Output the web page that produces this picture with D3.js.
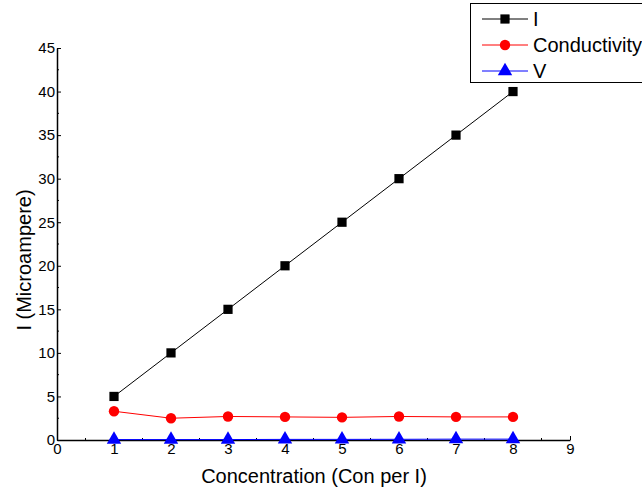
<!DOCTYPE html>
<html>
<head>
<meta charset="utf-8">
<script src="https://cdn.jsdelivr.net/npm/d3@7"></script>
<style>
  body { margin: 0; background: #fff; }
  svg { display: block; font-family: "Liberation Sans", Arial, sans-serif; }
</style>
</head>
<body>
<svg id="chart" width="642" height="492"></svg>
<script>
const concentration = [1, 2, 3, 4, 5, 6, 7, 8];
const currentI = [5, 10, 15, 20, 25, 30, 35, 40];
const conductivity = [3.3, 2.5, 2.7, 2.65, 2.6, 2.7, 2.65, 2.65];
const voltage = [0.05, 0.05, 0.05, 0.07, 0.07, 0.08, 0.1, 0.1];
const xTicks = [0, 1, 2, 3, 4, 5, 6, 7, 8, 9];
const yTicks = [0, 5, 10, 15, 20, 25, 30, 35, 40, 45];

const series = [
  { name: "I", values: currentI, color: "#000000", symbol: d3.symbolSquare },
  { name: "Conductivity", values: conductivity, color: "#ff0000", symbol: d3.symbolCircle },
  { name: "V", values: voltage, color: "#0000ff", symbol: d3.symbolTriangle }
];

const svg = d3.select("#chart");
const x = d3.scaleLinear().domain([0, 9]).range([57, 570]);
const y = d3.scaleLinear().domain([0, 45]).range([440, 48]);

// minor ticks
svg.append("g")
  .selectAll("line")
  .data(d3.range(0.5, 9, 1))
  .join("line")
  .attr("x1", d => x(d)).attr("x2", d => x(d))
  .attr("y1", y(0)).attr("y2", y(0) - 2)
  .attr("stroke", "#000");
svg.append("g")
  .selectAll("line")
  .data(d3.range(2.5, 45, 5))
  .join("line")
  .attr("y1", d => y(d)).attr("y2", d => y(d))
  .attr("x1", x(0)).attr("x2", x(0) + 2)
  .attr("stroke", "#000");

const xAxis = svg.append("g")
  .attr("transform", `translate(0,${y(0)})`)
  .call(d3.axisBottom(x).tickValues(xTicks).tickSize(-4).tickPadding(3).tickSizeOuter(0));
xAxis.select(".domain").attr("stroke-width", 1.5);
xAxis.selectAll("text").attr("font-size", 15).attr("fill", "#000").attr("font-family", "Liberation Sans, Arial, sans-serif");

const yAxis = svg.append("g")
  .attr("transform", `translate(${x(0)},0)`)
  .call(d3.axisLeft(y).tickValues(yTicks).tickSize(-4).tickPadding(2).tickSizeOuter(0));
yAxis.select(".domain").attr("stroke-width", 1.5);
yAxis.selectAll("text").attr("font-size", 15).attr("fill", "#000").attr("font-family", "Liberation Sans, Arial, sans-serif");

svg.append("text")
  .attr("x", 314).attr("y", 483)
  .attr("text-anchor", "middle")
  .attr("font-size", 20)
  .text("Concentration (Con per I)");

svg.append("text")
  .attr("transform", `translate(31,260) rotate(-90)`)
  .attr("text-anchor", "middle")
  .attr("font-size", 20)
  .text("I (Microampere)");

const line = d3.line().x((d, i) => x(concentration[i])).y(d => y(d));

series.forEach(s => {
  svg.append("path")
    .datum(s.values)
    .attr("d", line)
    .attr("fill", "none")
    .attr("stroke", s.color)
    .attr("stroke-width", 1);
  svg.append("g")
    .selectAll("path")
    .data(s.values)
    .join("path")
    .attr("transform", (d, i) => `translate(${x(concentration[i])},${y(d)})`)
    .attr("d", d3.symbol().type(s.symbol).size(s.symbol === d3.symbolTriangle ? 90 : 85))
    .attr("fill", s.color);
});

// legend
const legend = svg.append("g");
legend.append("rect")
  .attr("x", 470.5).attr("y", 3.5)
  .attr("width", 180).attr("height", 79)
  .attr("fill", "#fff").attr("stroke", "#000");
series.forEach((s, i) => {
  const ly = 19 + i * 26;
  legend.append("line")
    .attr("x1", 482).attr("x2", 528)
    .attr("y1", ly).attr("y2", ly)
    .attr("stroke", s.color);
  legend.append("path")
    .attr("transform", `translate(505,${ly})`)
    .attr("d", d3.symbol().type(s.symbol).size(s.symbol === d3.symbolTriangle ? 90 : 85))
    .attr("fill", s.color);
  legend.append("text")
    .attr("x", 533).attr("y", ly + 7)
    .attr("font-size", 20)
    .text(s.name);
});
</script>
</body>
</html>
